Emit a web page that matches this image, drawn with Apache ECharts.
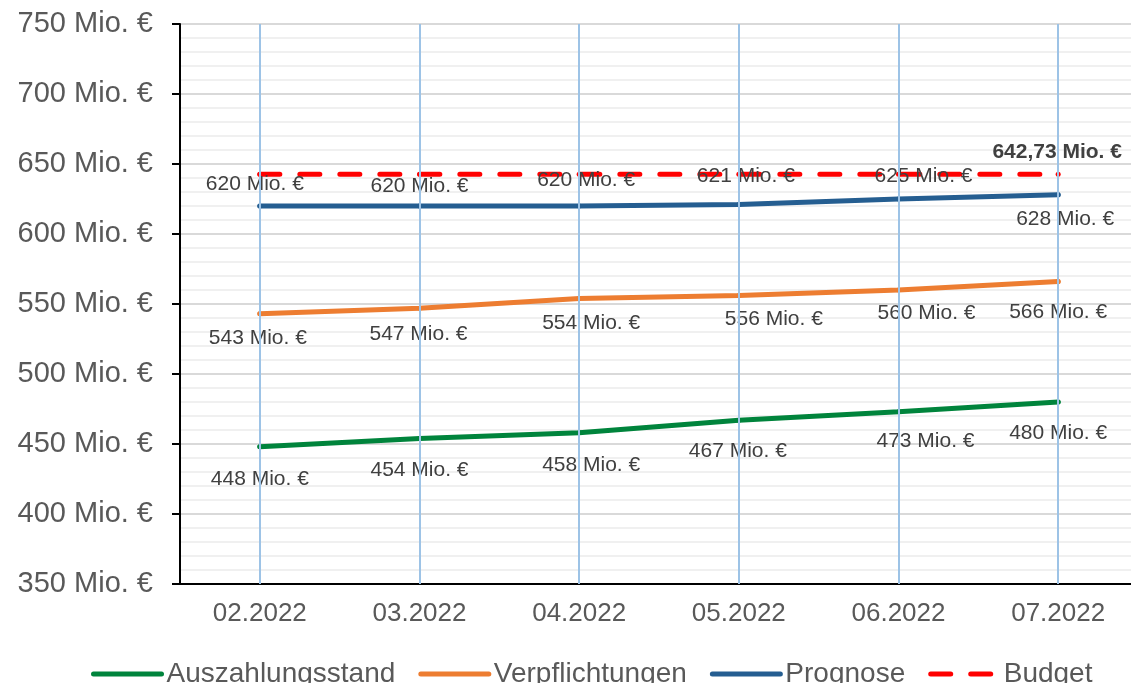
<!DOCTYPE html>
<html lang="de">
<head>
    <meta charset="UTF-8">
    <title>Budget</title>
    <style>
        html, body { margin: 0; padding: 0; background: #fff; }
    </style>
</head>
<body>
<div id="main" style="width: 1131px;height:683px;"></div>
<script src="https://cdn.jsdelivr.net/npm/echarts@6/dist/echarts.min.js"></script>
<script>
    var months = ['02.2022', '03.2022', '04.2022', '05.2022', '06.2022', '07.2022'];
    var auszahlung = [448, 454, 458, 467, 473, 480];
    var verpflichtungen = [543, 547, 554, 556, 560, 566];
    var prognose = [620, 620, 620, 621, 625, 628];
    var budget = [642.73, 642.73, 642.73, 642.73, 642.73, 642.73];

    // label offsets (px) from each point, like the Excel layout
    var offAus = [[0, 32], [0, 32], [12, 32], [-1, 31], [27, 29], [0, 31]];
    var offVer = [[-2, 24], [-1, 26], [12, 25], [35, 24], [28, 23], [0, 31]];
    var offPro = [[-5, -22], [0, -20], [7, -26], [7, -28], [25, -23], [7, 24]];

    var font = 'Liberation Sans, Arial, sans-serif';

    function withLabels(values, offsets) {
        return values.map(function (v, i) {
            return { value: v, label: { offset: offsets[i] } };
        });
    }

    function fmtInt(p) {
        return Math.round(p.value) + ' Mio. €';
    }

    var budgetData = budget.map(function (v, i) {
        return {
            value: v,
            label: {
                show: i === budget.length - 1,
                fontWeight: 'bold',
                offset: [-1, -22],
                formatter: function (p) {
                    return p.value.toFixed(2).replace('.', ',') + ' Mio. €';
                }
            }
        };
    });

    var labelBase = {
        show: true,
        position: 'inside',
        color: '#404040',
        fontSize: 21,
        fontFamily: font,
        formatter: fmtInt
    };

    var myChart = echarts.init(document.getElementById('main'));

    var option = {
        animation: false,
        textStyle: { fontFamily: font },
        grid: {
            left: 180,
            width: 958,
            top: 24,
            bottom: 99,
            containLabel: false,
            outerBoundsMode: 'none'
        },
        legend: {
            data: ['Auszahlungsstand', 'Verpflichtungen', 'Prognose', 'Budget'],
            left: 86,
            top: 655,
            itemWidth: 68,
            itemHeight: 14,
            itemGap: 23,
            lineStyle: { width: 5 },
            itemStyle: { opacity: 0 },
            textStyle: {
                fontSize: 28,
                color: '#595959',
                fontFamily: font
            }
        },
        xAxis: {
            type: 'category',
            data: months,
            boundaryGap: true,
            axisLine: { lineStyle: { color: '#000', width: 2 } },
            axisTick: {
                show: true,
                alignWithLabel: true,
                inside: true,
                length: 4,
                lineStyle: { color: '#333', width: 2 }
            },
            axisLabel: {
                fontSize: 26,
                color: '#595959',
                margin: 17,
                fontFamily: font
            },
            splitLine: { show: false }
        },
        yAxis: {
            type: 'value',
            min: 350,
            max: 750,
            interval: 50,
            axisLine: { show: true, lineStyle: { color: '#000', width: 2 } },
            axisTick: { show: true, length: 8, lineStyle: { color: '#000', width: 2 } },
            axisLabel: {
                fontSize: 29,
                color: '#595959',
                margin: 27,
                fontFamily: font,
                formatter: '{value} Mio. €'
            },
            splitLine: { show: true, lineStyle: { color: '#d9d9d9', width: 2 } },
            minorTick: { show: false, splitNumber: 5 },
            minorSplitLine: { show: true, lineStyle: { color: '#f0f0f0', width: 2 } }
        },
        series: [
            {
                // vertical helper lines at each month
                name: 'raster',
                type: 'line',
                data: [],
                z: 1,
                silent: true,
                markLine: {
                    silent: true,
                    symbol: 'none',
                    label: { show: false },
                    lineStyle: { color: '#9dc3e6', width: 2, type: 'solid' },
                    data: months.map(function (m) { return { xAxis: m }; })
                }
            },
            {
                name: 'Auszahlungsstand',
                type: 'line',
                data: withLabels(auszahlung, offAus),
                symbol: 'circle',
                symbolSize: 5,
                color: '#00843c',
                lineStyle: { width: 5, cap: 'round' },
                label: labelBase,
                z: 3
            },
            {
                name: 'Verpflichtungen',
                type: 'line',
                data: withLabels(verpflichtungen, offVer),
                symbol: 'circle',
                symbolSize: 5,
                color: '#ed7d31',
                lineStyle: { width: 5, cap: 'round' },
                label: labelBase,
                z: 3
            },
            {
                name: 'Prognose',
                type: 'line',
                data: withLabels(prognose, offPro),
                symbol: 'circle',
                symbolSize: 5,
                color: '#255e91',
                lineStyle: { width: 5, cap: 'round' },
                label: labelBase,
                z: 3
            },
            {
                name: 'Budget',
                type: 'line',
                data: budgetData,
                symbol: 'circle',
                symbolSize: 5,
                color: '#ff0000',
                lineStyle: { width: 5, type: [20, 20], cap: 'round' },
                label: {
                    show: false,
                    position: 'inside',
                    color: '#404040',
                    fontSize: 21,
                    fontFamily: font
                },
                z: 3
            }
        ]
    };

    myChart.setOption(option);
</script>
</body>
</html>
